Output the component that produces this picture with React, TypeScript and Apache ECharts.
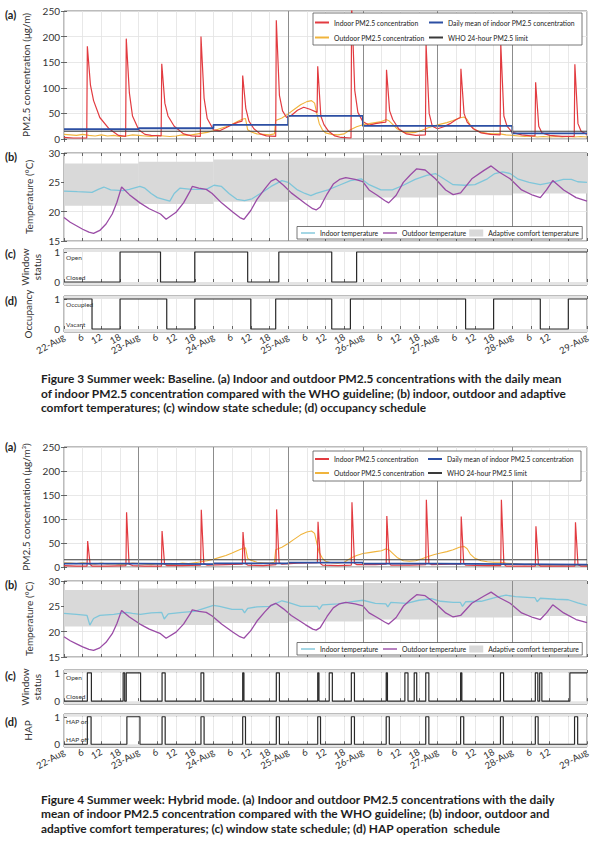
import React, { useEffect, useRef } from "react";
import * as echarts from "echarts";

type Pair = [number, number];

const FONT = "Lato, 'Open Sans', 'DejaVu Sans', sans-serif";

// ---------- axis data ----------
const HOUR_MAX = 168;
const HOUR_STEP = 6;
const dayLabels = ["22-Aug", "23-Aug", "24-Aug", "25-Aug", "26-Aug", "27-Aug", "28-Aug", "29-Aug"];
const hourLabels = ["", "6", "12", "18"];
const pmAxis = { min: 0, max: 250, step: 50 };
const tempAxis = { min: 15, max: 30, step: 5 };
const WHO_LIMIT = 15;
const fig3DarkDays = ["25-Aug", "26-Aug", "27-Aug", "28-Aug"];
const fig4DarkDays = ["23-Aug", "24-Aug", "25-Aug", "26-Aug", "27-Aug", "28-Aug"];

// ---------- PM2.5 data [hour, ug/m3] ----------
const outdoorPM: Pair[] = [
  [0, 9], [2, 8], [4, 7], [6, 9], [8, 7], [10, 6], [12, 8], [14, 6], [16, 7], [18, 5], [20, 6], [22, 8],
  [24, 7], [26, 6], [28, 5], [30, 7], [32, 6], [34, 5], [36, 6], [38, 8], [40, 7], [42, 9], [44, 11], [46, 13],
  [48, 16], [50, 20], [52, 24], [54, 29], [56, 35], [57.5, 39], [58.3, 40], [59, 18], [60, 14], [62, 10], [64, 9],
  [66, 8], [67.6, 10], [68, 36], [70, 41], [72, 49], [74, 58], [76, 67], [78, 73], [79.5, 75], [80.5, 70],
  [81.2, 50], [82, 30], [83, 18], [84, 12], [86, 9], [88, 8], [90, 10], [91, 14], [92, 18], [94, 24], [96, 28],
  [98, 30], [100, 32], [102, 34], [103.5, 38], [104.5, 35], [105.5, 29], [107, 20], [109, 13], [111, 12],
  [113, 13], [115, 17], [117, 22], [119, 26], [121, 29], [123, 32], [125, 36], [127, 41], [128.5, 43],
  [129.5, 38], [130.5, 27], [132, 18], [134, 13], [136, 11], [138, 10], [140, 10], [142, 8], [144, 7], [146, 6],
  [148, 5], [150, 6], [152, 4], [154, 5], [156, 4], [158, 5], [160, 4], [162, 5], [164, 4], [166, 5], [168, 4],
];

const baselineIndoorPM: Pair[] = [
  [0, 3], [3, 2], [7.3, 2],
  [7.5, 181], [8.5, 105], [9.5, 75], [11.5, 42], [14.5, 20], [17.5, 7], [19.8, 5],
  [20, 196], [21, 90], [22, 45], [24, 18], [26, 9], [28, 7], [31.2, 6],
  [31.4, 147], [32.4, 70], [33.4, 45], [35.4, 25], [38.4, 10], [41, 6], [43.8, 5],
  [44, 200], [45, 80], [46, 40], [48, 18], [50, 16], [52, 22], [54, 28], [56, 33], [57.2, 35],
  [57.4, 124], [58.4, 60], [59.4, 35], [61, 20], [63, 10], [65, 6], [68, 5],
  [68.2, 232], [69.2, 85], [70.2, 55], [71.5, 42], [73, 46], [75, 56], [77, 62], [79, 58], [81.3, 52],
  [81.5, 142], [82.5, 45], [83.5, 28], [85, 15], [87, 6], [89, 3], [92.2, 2],
  [92.4, 262], [93.4, 95], [94.4, 52], [96, 34], [98, 27], [100, 30], [102, 32], [103.4, 33],
  [103.6, 135], [104.6, 55], [105.6, 38], [107.5, 20], [110, 10], [113, 7], [116.1, 8],
  [116.3, 186], [117.3, 50], [118.3, 25], [120, 20], [122, 24], [124, 30], [126, 38], [127.3, 42],
  [127.5, 137], [128.5, 50], [129.5, 33], [131.5, 20], [134, 12], [137, 9], [140.1, 8],
  [140.3, 187], [141.3, 45], [142.3, 25], [144, 13], [147, 8], [150, 6], [151.3, 6],
  [151.5, 111], [152.5, 25], [153.5, 12], [156, 7], [160, 5], [163.9, 5],
  [164.1, 146], [165.1, 30], [166.1, 15], [168, 9],
];
const baselineDailyMean = [19, 21, 27.6, 45, 25.6, 25.6, 11];

const hybridIndoorPM: Pair[] = [
  [0, 3], [4, 2], [7.4, 2], [7.6, 54], [8.4, 5], [9, 2], [14, 2], [19.9, 3],
  [20.1, 114], [20.9, 6], [22, 3], [26, 2], [31.3, 2],
  [31.5, 75], [32.3, 6], [33, 3], [38, 3], [43.9, 4],
  [44.1, 119], [44.9, 7], [46, 4], [52, 5], [57.3, 6],
  [57.5, 73], [58.3, 7], [59, 4], [64, 3], [68.1, 5],
  [68.3, 120], [69.1, 9], [70, 6], [75, 8], [81.4, 9],
  [81.6, 94], [82.4, 7], [83, 4], [88, 3], [92.3, 4],
  [92.5, 135], [93.3, 8], [94, 5], [100, 5], [103.5, 6],
  [103.7, 106], [104.5, 8], [105, 4], [111, 4], [116.2, 5],
  [116.4, 140], [117.2, 8], [118, 5], [124, 6], [127.4, 6],
  [127.6, 105], [128.4, 8], [129, 4], [136, 3], [140.3, 3],
  [140.5, 140], [141.3, 6], [142, 2], [148, 2], [151.4, 2],
  [151.6, 85], [152.4, 5], [153, 2], [160, 2], [164.1, 2],
  [164.3, 93], [165.1, 5], [166, 2], [168, 2],
];
const hybridDailyMean = [7, 6, 7.5, 9, 7, 6, 5];

// ---------- temperature data [hour, degC] ----------
const comfortLower = [21.0, 21.3, 21.7, 22.0, 22.4, 22.8, 23.1];
const comfortUpper = [28.2, 28.5, 28.9, 29.2, 29.6, 30.0, 30.0];

const outdoorTemp: Pair[] = [
  [0, 19.0], [2, 18.2], [4, 17.6], [6, 17.0], [8, 16.5], [9.5, 16.3], [11.5, 16.8], [13.5, 17.9], [15.5, 19.6],
  [17, 21.6], [18.5, 24.2], [21, 22.9], [24.4, 21.5], [27.4, 20.5], [31, 19.6], [32.8, 18.7], [36, 19.9], [38.4, 21.5],
  [40.5, 23.5], [41.2, 24.3], [43.3, 24.0], [45.7, 23.8], [47.6, 23.1], [50.6, 21.5], [54.3, 19.9], [56.5, 19.0],
  [57.8, 18.7], [60, 20.2], [62, 22.1], [64.5, 23.9], [66.5, 25.2], [68, 25.6], [70.5, 24.5], [73, 23.2], [75.5, 22.2],
  [77.5, 21.4], [79.9, 20.5], [81, 20.3], [82.3, 20.8], [84.5, 23.0], [86.5, 24.7], [88.5, 25.5], [90.5, 25.8],
  [93.5, 25.5], [96, 25.1], [98, 23.7], [100.6, 22.8], [103, 21.9], [104.3, 21.5], [106.7, 22.8], [109, 25.0],
  [111.3, 26.3], [113.3, 27.3], [116, 27.1], [119.3, 25.6], [122.6, 23.7], [125, 22.9], [127.4, 23.2], [131, 25.6],
  [134.8, 27.0], [137.2, 27.8], [139.6, 26.8], [143.3, 25.6], [147, 23.7], [150.6, 22.8], [153, 22.4], [155, 23.7],
  [157, 25.3], [160.5, 23.7], [164.5, 22.4], [168, 21.8],
];

const baselineIndoorTemp: Pair[] = [
  [0, 23.5], [4.3, 23.4], [9, 23.3], [11, 23.8], [12.8, 24.2], [15, 23.7], [19, 23.6], [21, 23.8], [24.4, 24.3],
  [26, 24.0], [28, 23.1], [30, 22.4], [32, 22.1], [34, 21.8], [35.4, 23.1], [37.2, 24.0], [40.9, 23.8], [45.7, 23.8],
  [48.2, 24.5], [50.6, 24.3], [53, 23.1], [55.5, 22.1], [58, 21.9], [60.4, 22.2], [64, 23.4], [66.5, 24.3], [70, 25.3],
  [72, 25.0], [75, 23.7], [77.4, 23.1], [79.3, 22.75], [81, 23.1], [84.8, 23.7], [88.4, 24.5], [92, 25.3], [95.5, 25.6],
  [98, 24.6], [101.8, 23.7], [105.5, 23.7], [109, 24.5], [112.8, 25.5], [116.5, 26.2], [119.3, 26.5], [122, 25.6],
  [125, 24.6], [128.7, 24.5], [132, 24.6], [136, 25.6], [138.4, 26.5], [140.9, 26.8], [143.3, 26.5], [145.7, 25.6],
  [149.4, 25.0], [153, 24.6], [156.7, 25.0], [160.4, 25.5], [163, 25.5], [165, 25.1], [168, 25.0],
];

const hybridIndoorTemp: Pair[] = [
  [0, 23.6], [4, 23.4], [7.4, 23.2], [8.3, 21.3], [9.5, 22.6], [11.5, 23.2], [16, 23.4], [20, 23.8], [22, 23.6],
  [24.5, 23.4], [28, 23.7], [31.4, 23.8], [32.2, 22.5], [33.5, 23.5], [38, 23.8], [42, 24.0], [45, 24.6], [48, 25.2],
  [50, 25.0], [54, 24.4], [57.3, 24.4], [58, 23.7], [59, 24.6], [62, 24.9], [66, 25.0], [70, 26.1], [72, 25.8],
  [76, 25.0], [81.4, 25.0], [82, 24.4], [83, 25.3], [88, 25.5], [92, 25.9], [96, 26.2], [100, 25.6], [103.4, 25.5],
  [104, 24.9], [105, 25.8], [110, 25.6], [114, 26.2], [118, 26.5], [121, 26.0], [125, 25.8], [127.3, 25.8],
  [128, 25.0], [129, 25.9], [134, 26.0], [139, 26.8], [142, 27.2], [145, 26.9], [150, 26.7], [151.3, 26.7],
  [152, 25.9], [153, 26.6], [158, 26.4], [162, 26.3], [165, 25.7], [168, 25.2],
];

// ---------- schedules ----------
const baselineWindowChanges: Pair[] = [[0, 0], [18, 1], [31, 0], [42, 1], [59, 0], [69, 1], [86, 0], [94, 1]];
const baselineOccupancyChanges: Pair[] = [
  [0, 1], [9, 0], [18, 1], [33, 0], [42, 1], [60, 0], [68, 1], [86, 0], [92, 1], [129, 0], [138, 1], [153, 0], [162, 1],
];
const hybridWindowOpen: Pair[] = [
  [7.5, 8.8], [19.0, 19.5], [20.0, 24.6], [31.5, 32.5], [44.0, 44.9], [57.4, 57.8], [68.2, 69.2], [81.5, 81.9],
  [85.2, 86.2], [92.3, 93.3], [103.5, 103.9], [109.5, 110.5], [112.5, 113.3], [116.2, 117.2], [127.4, 127.8],
  [140.2, 141.2], [151.4, 152.2], [152.8, 153.5], [162.5, 168],
];
const hybridHapOn: Pair[] = [
  [7.5, 8.7], [20.2, 24.4], [31.5, 32.5], [44.0, 45.0], [57.4, 58.3], [68.2, 69.2], [81.5, 82.4], [92.3, 93.3],
  [103.5, 104.5], [116.2, 117.2], [127.4, 128.4], [140.2, 141.1], [151.4, 152.3], [164.0, 165.0],
];

const captions3 = [
  "Figure 3 Summer week: Baseline. (a) Indoor and outdoor PM2.5 concentrations with the daily mean",
  "of indoor PM2.5 concentration compared with the WHO guideline; (b) indoor, outdoor and adaptive",
  "comfort temperatures; (c) window state schedule; (d) occupancy schedule",
];
const captions4 = [
  "Figure 4 Summer week: Hybrid mode. (a) Indoor and outdoor PM2.5 concentrations with the daily",
  "mean of indoor PM2.5 concentration compared with the WHO guideline; (b) indoor, outdoor and",
  "adaptive comfort temperatures; (c) window state schedule; (d) HAP operation  schedule",
];

// ---------- styling ----------
const C = {
  red: "#e23b40",
  blue: "#2c4fa3",
  yellow: "#f0b43c",
  who: "#3a3a3a",
  cyan: "#7fc6da",
  purple: "#9a4ca6",
  band: "#d9d9d9",
  step: "#2a2a2a",
  grid: "#e2e2e2",
  text: "#333",
};
const GL = 64;
const GR = 13;
const panels = [
  { kind: "a", top: 11, height: 128 },
  { kind: "b", top: 153, height: 88 },
  { kind: "c", top: 249, height: 36 },
  { kind: "d", top: 296, height: 36 },
  { kind: "a", top: 447, height: 120 },
  { kind: "b", top: 581, height: 76 },
  { kind: "c", top: 670, height: 34 },
  { kind: "d", top: 714, height: 33 },
];
const SMIN = -0.1;
const SMAX = 1.1;
const LINE_ICON = "path://M0,0H14V1.4H0Z";

function fmtHour(v: number) {
  if (v % 24 === 0) return dayLabels[v / 24];
  return hourLabels[(v % 24) / 6];
}
function dayHours(names: string[]) {
  return names.map((n) => dayLabels.indexOf(n) * 24);
}
function withEnd(changes: Pair[]): Pair[] {
  const last = changes[changes.length - 1];
  return [...changes, [HOUR_MAX, last[1]]];
}
function fromIntervals(iv: Pair[]): Pair[] {
  const out: Pair[] = [[0, 0]];
  iv.forEach(([a, b]) => {
    out.push([a, 1]);
    if (b < HOUR_MAX) out.push([b, 0]);
  });
  out.push([HOUR_MAX, out[out.length - 1][1]]);
  return out;
}
function daily(vals: number[]): Pair[] {
  const out: Pair[] = vals.map((v, i) => [i * 24, v] as Pair);
  out.push([HOUR_MAX, vals[vals.length - 1]]);
  return out;
}
function dayLineMark(hours: number[]) {
  return {
    silent: true,
    z: 3,
    symbol: ["none", "none"],
    label: { show: false },
    lineStyle: { color: "#8c8c8c", width: 1, type: "solid" },
    data: hours.map((h) => ({ xAxis: h })),
  };
}
function line(name: string, gi: number, data: any, color: string, width: number, extra: any = {}) {
  return {
    name,
    type: "line",
    xAxisIndex: gi,
    yAxisIndex: gi,
    data,
    symbol: "none",
    showSymbol: false,
    silent: true,
    clip: true,
    lineStyle: { color, width },
    itemStyle: { color },
    z: 2,
    ...extra,
  };
}

function buildOption() {
  const grid: any[] = [];
  const xAxis: any[] = [];
  const yAxis: any[] = [];
  const series: any[] = [];
  const legend: any[] = [];
  const graphic: any[] = [];

  panels.forEach((p) => {
    grid.push({
      left: GL, right: GR, top: p.top, height: p.height, show: true,
      borderColor: "#555", borderWidth: 0.8, backgroundColor: "#fff",
    });
  });
  const tick = { show: true, inside: true, length: 3, lineStyle: { color: "#444", width: 0.8 } };
  panels.forEach((p, i) => {
    const showLabels = i === 3 || i === 7;
    xAxis.push({
      type: "value", gridIndex: i, min: 0, max: HOUR_MAX, interval: HOUR_STEP,
      axisLine: { show: false }, axisTick: tick,
      axisLabel: {
        show: showLabels, interval: 0, rotate: 30, fontSize: 9.5, margin: 4, color: C.text,
        fontFamily: FONT, formatter: fmtHour, showMinLabel: true, showMaxLabel: true,
      },
      splitLine: { show: true, lineStyle: { color: C.grid, width: 0.8 } },
    });
  });
  panels.forEach((p, i) => {
    xAxis.push({
      type: "value", gridIndex: i, position: "top", min: 0, max: HOUR_MAX, interval: HOUR_STEP,
      axisLine: { show: false }, axisTick: tick, axisLabel: { show: false }, splitLine: { show: false },
    });
  });
  const nameStyle = { fontSize: 10, color: C.text, fontFamily: FONT, lineHeight: 12 };
  const labelStyle = { fontSize: 10, color: C.text, fontFamily: FONT, margin: 4 };
  panels.forEach((p, i) => {
    const second = i >= 4;
    if (p.kind === "a") {
      yAxis.push({
        type: "value", gridIndex: i, min: pmAxis.min, max: pmAxis.max, interval: pmAxis.step,
        name: second ? "PM2.5 concentration (μg/m³)" : "PM2.5 concentration (μg/m)",
        nameLocation: "middle", nameGap: 30, nameTextStyle: nameStyle,
        axisLine: { show: false }, axisTick: tick, axisLabel: labelStyle,
        splitLine: { show: true, lineStyle: { color: C.grid, width: 0.8 } },
      });
    } else if (p.kind === "b") {
      yAxis.push({
        type: "value", gridIndex: i, min: tempAxis.min, max: tempAxis.max, interval: tempAxis.step,
        name: "Temperature (°C)", nameLocation: "middle", nameGap: 29, nameTextStyle: nameStyle,
        axisLine: { show: false }, axisTick: tick, axisLabel: labelStyle,
        splitLine: { show: true, lineStyle: { color: C.grid, width: 0.8 } },
      });
    } else {
      const nm = p.kind === "c" ? "Window\nstatus" : second ? "HAP" : "Occupancy";
      yAxis.push({
        type: "value", gridIndex: i, min: SMIN, max: SMAX,
        name: nm, nameLocation: "middle", nameGap: p.kind === "c" ? 18 : 30, nameTextStyle: nameStyle,
        axisLine: { show: false },
        axisTick: { ...tick, customValues: [0, 1] },
        axisLabel: { ...labelStyle, customValues: [0, 1] },
        splitLine: { show: false },
      });
    }
  });
  [0, 1, 4, 5].forEach((gi) => {
    const ax = panels[gi].kind === "a" ? pmAxis : tempAxis;
    yAxis.push({
      type: "value", gridIndex: gi, position: "right", min: ax.min, max: ax.max, interval: ax.step,
      axisLine: { show: false }, axisTick: tick, axisLabel: { show: false }, splitLine: { show: false },
    });
  });

  // ---- series ----
  const figs = [
    { base: 0, indoorPM: baselineIndoorPM, mean: baselineDailyMean, indoorT: baselineIndoorTemp, dark: dayHours(fig3DarkDays),
      c: withEnd(baselineWindowChanges), d: withEnd(baselineOccupancyChanges) },
    { base: 4, indoorPM: hybridIndoorPM, mean: hybridDailyMean, indoorT: hybridIndoorTemp, dark: dayHours(fig4DarkDays),
      c: fromIntervals(hybridWindowOpen), d: fromIntervals(hybridHapOn) },
  ];
  const stateStrips = {
    silent: true,
    itemStyle: { color: "#e4e4e4" },
    data: [
      [{ xAxis: 0, yAxis: 1 }, { xAxis: HOUR_MAX, yAxis: SMAX }],
      [{ xAxis: 0, yAxis: SMIN }, { xAxis: HOUR_MAX, yAxis: 0 }],
    ],
  };
  figs.forEach((f, k) => {
    const ga = f.base, gb = f.base + 1, gc = f.base + 2, gd = f.base + 3;
    series.push(line("Outdoor PM2.5 concentration", ga, outdoorPM, C.yellow, 1.1));
    series.push(line("Indoor PM2.5 concentration", ga, f.indoorPM, C.red, 1.2));
    series.push(line("Daily mean of indoor PM2.5 concentration", ga, daily(f.mean), C.blue, 1.8, { step: "end" }));
    series.push(line("WHO 24-hour PM2.5 limit", ga, [[0, WHO_LIMIT], [HOUR_MAX, WHO_LIMIT]], C.who, 1.1,
      { markLine: dayLineMark(f.dark) }));

    series.push(line("Adaptive comfort temperature", gb, daily(comfortLower), C.band, 0, {
      step: "end", lineStyle: { opacity: 0, width: 0 }, z: 1,
      markArea: {
        silent: true, itemStyle: { color: C.band },
        data: comfortLower.map((lo, i) => [{ xAxis: i * 24, yAxis: lo }, { xAxis: (i + 1) * 24, yAxis: comfortUpper[i] }]),
      },
    }));
    series.push(line("Indoor temperature", gb, f.indoorT, C.cyan, 1.3));
    series.push(line("Outdoor temperature", gb, outdoorTemp, C.purple, 1.3, { markLine: dayLineMark(f.dark) }));

    series.push(line(k === 0 ? "Window status baseline" : "Window status hybrid", gc, f.c, C.step, 1.2,
      { step: "end", markArea: stateStrips }));
    series.push(line(k === 0 ? "Occupancy" : "HAP", gd, f.d, C.step, 1.2, { step: "end", markArea: stateStrips }));
  });

  // ---- legends (boxed, above the series) ----
  const legText = { fontSize: 6.8, color: "#222", fontFamily: FONT, lineHeight: 12 };
  const boxStyle = { backgroundColor: "#fff", borderColor: "#555", borderWidth: 0.8, borderRadius: 0, z: 20 };
  const W1 = 92;
  const W2 = 132;
  const pmLegend = (top: number, pad: number[], gap: number) => ({
    ...boxStyle,
    left: 313, top, orient: "horizontal", itemGap: gap, padding: pad,
    width: 14 + 5 + W1 + gap + 14 + 5 + W2 + 2,
    itemWidth: 14, itemHeight: 2, icon: "rect", selectedMode: false, textStyle: legText,
    data: [
      { name: "Indoor PM2.5 concentration", textStyle: { width: W1 } },
      { name: "Daily mean of indoor PM2.5 concentration", textStyle: { width: W2 } },
      { name: "Outdoor PM2.5 concentration", textStyle: { width: W1 } },
      { name: "WHO 24-hour PM2.5 limit", textStyle: { width: W2 } },
    ],
  });
  const tLegend = (top: number) => ({
    ...boxStyle,
    left: 297, top, orient: "horizontal", itemGap: 3, padding: [0.5, 2, 0, 4],
    itemWidth: 14, itemHeight: 7, selectedMode: false, textStyle: legText,
    data: [
      { name: "Indoor temperature", icon: LINE_ICON, textStyle: { width: 60 } },
      { name: "Outdoor temperature", icon: LINE_ICON, textStyle: { width: 64 } },
      { name: "Adaptive comfort temperature", icon: "rect", textStyle: { width: 92 } },
    ],
  });
  legend.push(pmLegend(13, [3.5, 2, 1.5, 2], 3));
  legend.push(tLegend(panels[1].top + panels[1].height - 14.5));
  legend.push(pmLegend(451, [2, 2, 2, 2], 2));
  legend.push(tLegend(panels[5].top + panels[5].height - 14.5));

  // ---- panel letters ----
  const letter = (t: string, y: number) => ({
    type: "text", z: 5, silent: true,
    style: { text: t, x: 5, y, fill: "#222", font: `bold 11px ${FONT}`, textAlign: "left", textVerticalAlign: "middle" },
  });
  [["(a)", 14], ["(b)", 156], ["(c)", 253], ["(d)", 300], ["(a)", 446], ["(b)", 584], ["(c)", 675], ["(d)", 721]].forEach(
    ([t, y]) => graphic.push(letter(t as string, y as number))
  );

  // ---- inner state labels ----
  const yOf = (gi: number, v: number) => panels[gi].top + ((SMAX - v) / (SMAX - SMIN)) * panels[gi].height;
  const small = (t: string, gi: number, v: number) => ({
    type: "text", z: 5, silent: true,
    style: {
      text: t, x: GL + 2, y: v === 1 ? yOf(gi, 1) + 1.5 : yOf(gi, 0) - 1.5, fill: "#333",
      font: `6.5px ${FONT}`, textAlign: "left", textVerticalAlign: v === 1 ? "top" : "bottom",
    },
  });
  graphic.push(small("Open", 2, 1), small("Closed", 2, 0), small("Occupied", 3, 1), small("Vacant", 3, 0));
  graphic.push(small("Open", 6, 1), small("Closed", 6, 0), small("HAP on", 7, 1), small("HAP off", 7, 0));

  // ---- captions ----
  const cap = (t: string, y: number) => ({
    type: "text", z: 5, silent: true,
    style: { text: t, x: 41, y, fill: "#1e1e1e", font: `bold 11.9px ${FONT}`, textAlign: "left", textVerticalAlign: "middle" },
  });
  captions3.forEach((t, i) => graphic.push(cap(t, 378.5 + i * 14.5)));
  captions4.forEach((t, i) => graphic.push(cap(t, 799 + i * 14.5)));

  return {
    animation: false,
    backgroundColor: "#fff",
    textStyle: { fontFamily: FONT },
    grid, xAxis, yAxis, series, legend, graphic,
  };
}

export default function App() {
  const ref = useRef<HTMLDivElement>(null);
  useEffect(() => {
    document.body.style.margin = "0";
    const chart = echarts.init(ref.current!, null, { renderer: "svg" });
    chart.setOption(buildOption() as any);
    return () => chart.dispose();
  }, []);
  return <div ref={ref} style={{ width: 600, height: 843, background: "#fff" }} />;
}
